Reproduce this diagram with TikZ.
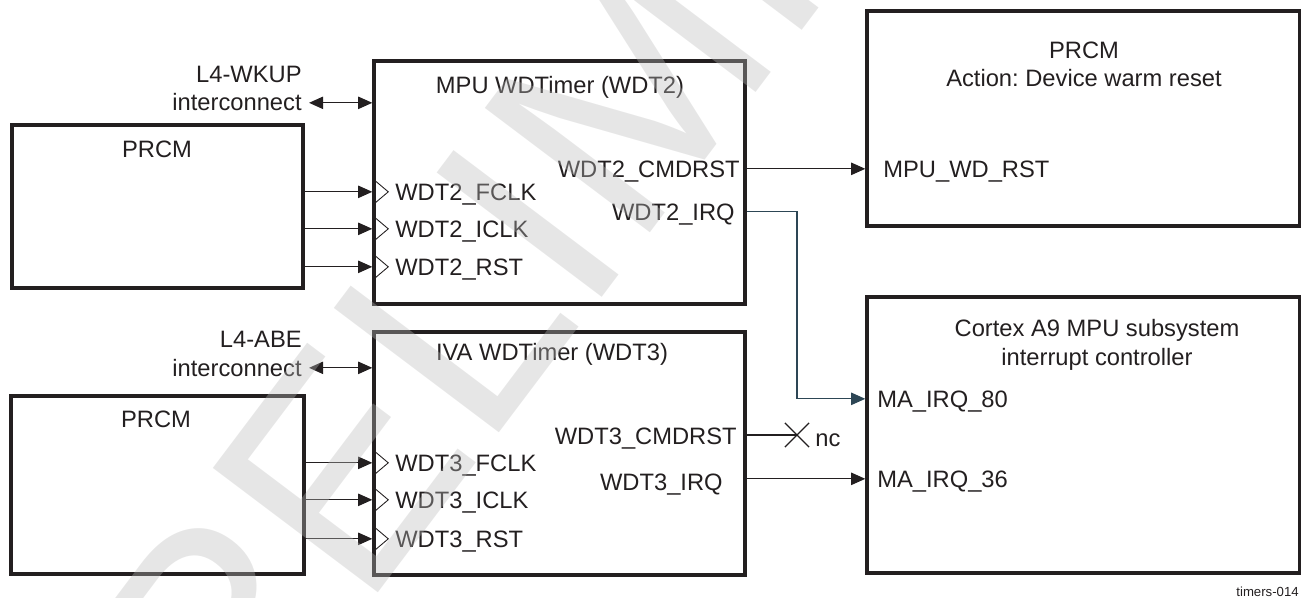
\documentclass[tikz,border=0pt]{standalone}
\usepackage{fontspec}
\setmainfont{Liberation Sans}
\usepackage{tikz}
\usetikzlibrary{arrows.meta, positioning, shapes.misc}
\definecolor{tiblack}{RGB}{35,31,32}
\definecolor{irqslate}{RGB}{45,70,85}
\definecolor{wmgray}{RGB}{187,187,187}
\frenchspacing

\begin{document}
\begin{tikzpicture}[
    x=0.02cm, y=-0.02cm,
    blk/.style={rectangle, draw=tiblack, line width=2pt, inner sep=0pt},
    lbl/.style={font=\fontsize{13.5}{16.3}\selectfont, text=tiblack, inner sep=0pt,
        text height=9.3pt, text depth=0pt},
    ttl/.style={font=\fontsize{13.5}{16.3}\selectfont, text=tiblack, inner sep=0pt, align=center},
    arr/.style={-{Triangle[length=8pt, width=7pt]}, line width=0.7pt, draw=tiblack},
    biarr/.style={{Triangle[length=8pt, width=7pt]}-{Triangle[length=8pt, width=7pt]}, line width=0.7pt, draw=tiblack},
    clk/.style={draw=tiblack, line width=0.5pt},
    ncmark/.style={cross out, draw=tiblack, line width=0.7pt, minimum size=0.46cm, inner sep=0pt}
]
\useasboundingbox (0,0) rectangle (1301,598);

% Upper half: MPU watchdog
\node[blk, minimum width=5.82cm, minimum height=3.26cm] (prcmA) at (157.5,206.5) {};
\node[lbl, anchor=base] (prcmAtxt) at (157,157) {PRCM};
\node[blk, minimum width=7.42cm, minimum height=4.86cm] (wdtA) at (559.5,182.5) {};
\node[lbl, anchor=base] (wdtAtxt) at (560,93) {MPU WDTimer (WDT2)};

\node[lbl, anchor=base east] (busA) at (302,83) {L4-WKUP};
\node[lbl, anchor=base east] (icA) at (302,111) {interconnect};
\draw[biarr] ([xshift=4pt]icA.east) -- (wdtA.west |- icA.east);

\foreach \sig/\yy in {FCLK/200, ICLK/237, RST/275} {
  \node[lbl, anchor=base west] (wdtA\sig) at (395,\yy) {WDT2\_\sig};
  \draw[arr] (prcmA.east |- wdtA\sig.west) -- (wdtA.west |- wdtA\sig.west);
  \draw[clk] (wdtA.west |- wdtA\sig.west) ++(0,-13.5) -- ++(16,13.5) -- ++(-16,13.5);
}

\node[lbl, anchor=base east] (cmdA) at (740,177) {WDT2\_CMDRST};
\node[lbl, anchor=base east] (irqA) at (735,220) {WDT2\_IRQ};

% PRCM: warm reset
\node[blk, minimum width=8.66cm, minimum height=4.3cm] (rstA) at (1083.5,118.5) {};
\node[ttl, anchor=base] (rstAtxt) at (1084,87) {PRCM\\Action: Device warm reset};
\node[lbl, anchor=base west] (mpurst) at (883,177) {MPU\_WD\_RST};
\draw[arr] (wdtA.east |- mpurst.west) -- (rstA.west |- mpurst.west);

% MPU interrupt controller
\node[blk, minimum width=8.66cm, minimum height=5.52cm] (gic) at (1083.5,435) {};
\node[ttl, anchor=base] (gictxt) at (1097,365) {Cortex A9 MPU subsystem\\interrupt controller};
\node[lbl, anchor=base west] (ma80) at (877,407) {MA\_IRQ\_80};
\node[lbl, anchor=base west] (ma36) at (877,487) {MA\_IRQ\_36};

\coordinate (jog) at (797,0);
\draw[arr, draw=irqslate] (wdtA.east |- irqA.east) -| (jog |- ma80.west) -- (gic.west |- ma80.west);

% Lower half: IVA watchdog
\node[blk, minimum width=5.86cm, minimum height=3.56cm] (prcmB) at (157.5,485) {};
\node[lbl, anchor=base] (prcmBtxt) at (156,427) {PRCM};
\node[blk, minimum width=7.42cm, minimum height=4.86cm] (wdtB) at (559.5,453.5) {};
\node[lbl, anchor=base] (wdtBtxt) at (552,360) {IVA WDTimer (WDT3)};

\node[lbl, anchor=base east] (busB) at (302,347) {L4-ABE};
\node[lbl, anchor=base east] (icB) at (302,376) {interconnect};
\draw[biarr] ([xshift=4pt]icB.east) -- (wdtB.west |- icB.east);

\foreach \sig/\yy in {FCLK/471, ICLK/508, RST/547} {
  \node[lbl, anchor=base west] (wdtB\sig) at (395,\yy) {WDT3\_\sig};
  \draw[arr] (prcmB.east |- wdtB\sig.west) -- (wdtB.west |- wdtB\sig.west);
  \draw[clk] (wdtB.west |- wdtB\sig.west) ++(0,-13.5) -- ++(16,13.5) -- ++(-16,13.5);
}

\node[lbl, anchor=base east] (cmdB) at (737,444) {WDT3\_CMDRST};
\node[lbl, anchor=base east] (irqB) at (723,490) {WDT3\_IRQ};

\node[ncmark] (ncx) at (797,435) {};
\draw[line width=0.7pt, draw=tiblack] (wdtB.east |- ncx) -- (ncx.center);
\node[font=\fontsize{13.5}{16.3}\selectfont, text=tiblack, inner sep=0pt, anchor=base west] (nc) at (815,446) {nc};

\draw[arr] (wdtB.east |- ma36.west) -- (gic.west |- ma36.west);

\node[font=\fontsize{7.5}{9}\selectfont, text=tiblack, inner sep=0pt, anchor=base east] (figid) at (1299,596) {timers-014};

% watermark
\begin{scope}
  \clip (0,0) rectangle (1301,598);
  \node[rotate=53, anchor=west, inner sep=0pt, text=wmgray, text opacity=0.36,
        font=\fontsize{171}{171}\selectfont] (wm) at (30,884) {PRELIMINARY};
\end{scope}

\end{tikzpicture}
\end{document}
